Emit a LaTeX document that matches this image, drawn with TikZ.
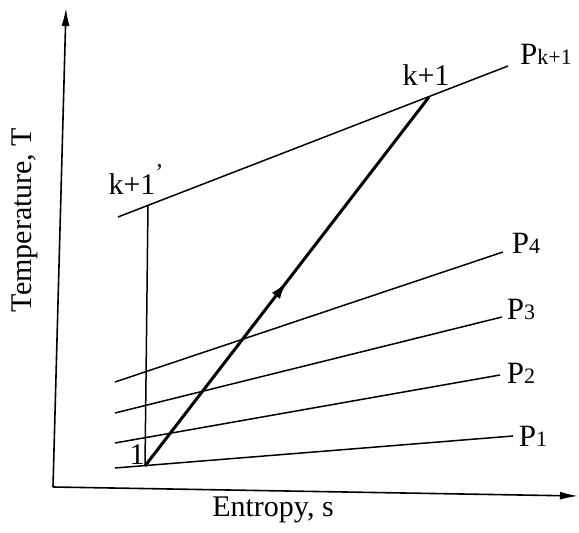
\documentclass[tikz,border=0pt]{standalone}
\usepackage{fontspec}
\setmainfont{Liberation Serif}
\usetikzlibrary{arrows.meta, decorations.markings}

\begin{document}
\begin{tikzpicture}[
  x=0.5pt, y=-0.5pt,
  axis/.style   ={line width=0.8pt, -{Latex[length=9pt, width=4pt]}},
  isobar/.style ={line width=0.75pt},
  process/.style={line width=1.5pt,
                  postaction={decorate, decoration={markings,
                    mark=at position 0.5 with {\arrow{Latex[length=9pt, width=5pt]}}}}},
  lbl/.style    ={font=\fontsize{15}{17}\selectfont, inner sep=0pt},
  plbl/.style   ={font=\fontsize{15.5}{17}\selectfont, inner sep=0pt},
  axlbl/.style  ={font=\fontsize{15}{18}\selectfont, inner sep=0pt},
]
\useasboundingbox (0,0) rectangle (579,533);

% axes
\coordinate (O)    at (53,487);
\coordinate (Ttop) at (66,8);
\coordinate (Send) at (578,496);
\draw[axis] (O) -- (Ttop);
\draw[axis] (O) -- (Send);

% isobars
\coordinate (p1a) at (115,468); \coordinate (p1b) at (513,436);
\coordinate (p2a) at (115,443); \coordinate (p2b) at (500,375);
\coordinate (p3a) at (115,413); \coordinate (p3b) at (502,317);
\coordinate (p4a) at (115,382); \coordinate (p4b) at (503,252);
\coordinate (pka) at (118,217); \coordinate (pkb) at (508,66);
\foreach \p in {p1,p2,p3,p4,pk} \draw[isobar] (\p a) -- (\p b);

% states
\coordinate (s1)  at (145,466);
\coordinate (sk)  at (429,97);
\coordinate (skp) at (148,205);
\draw[isobar] (skp) -- (s1);
\draw[process] (s1) -- (sk);

% labels
\node[lbl] (l1)   at (137,455) {1};
\node[lbl] (lk)   at (426,75)  {k+1};
\node[lbl] (lkp)  at (136,180) {k+1\raisebox{7pt}{\fontsize{12}{12}\selectfont\textquoteright}};
\node[plbl] (P1)  at (533,436) {P\fontsize{11}{12}\selectfont 1};
\node[plbl] (P2)  at (521,373) {P\fontsize{11}{12}\selectfont 2};
\node[plbl] (P3)  at (521,309) {P\fontsize{11}{12}\selectfont 3};
\node[plbl] (P4)  at (526,243) {P\fontsize{11}{12}\selectfont 4};
\node[plbl] (Pk)  at (546,54)  {P\fontsize{11}{12}\selectfont k+1};
\node[axlbl, rotate=90] (Tlbl) at (25,220) {Temperature, T};
\node[axlbl] (slbl) at (273,510) {Entropy, s};
\end{tikzpicture}
\end{document}
